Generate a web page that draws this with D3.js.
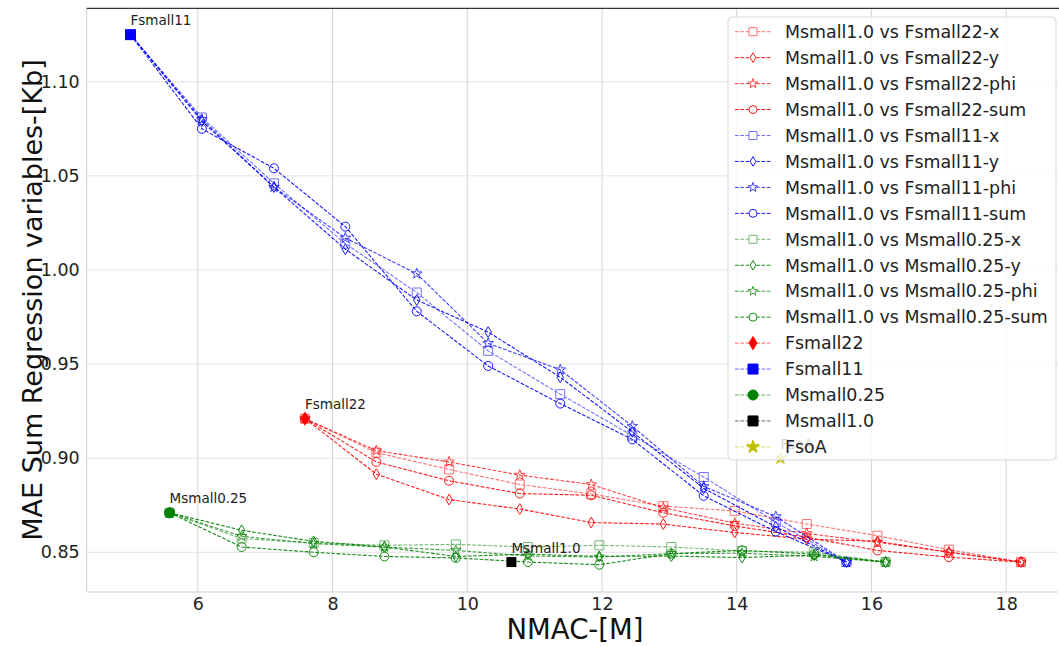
<!DOCTYPE html>
<html>
<head>
<meta charset="utf-8">
<script src="https://cdn.jsdelivr.net/npm/d3@7"></script>
<style>
  body { margin: 0; background: #fff; }
  svg { display: block; font-family: "DejaVu Sans", sans-serif; }
</style>
</head>
<body>
<svg id="chart" width="1059" height="646"></svg>
<script>
// ---- data: NMAC (millions) per step, MAE sums per regression variable ----
const nmacFsmall22 = [7.59, 8.65, 9.73, 10.78, 11.84, 12.91, 13.97, 15.04, 16.09, 17.15, 18.22];
const nmacFsmall11 = [5.0, 6.06, 7.13, 8.19, 9.25, 10.31, 11.38, 12.45, 13.51, 14.58, 15.63];
const nmacMsmall025 = [5.58, 6.65, 7.72, 8.77, 9.83, 10.90, 11.96, 13.03, 14.08, 15.15, 16.21];

const fsmall22X   = [0.921, 0.903, 0.894, 0.886, 0.881, 0.8745, 0.872, 0.865, 0.8588, 0.8514, 0.8448];
const fsmall22Y   = [0.921, 0.8915, 0.878, 0.873, 0.8658, 0.865, 0.8605, 0.857, 0.8558, 0.8500, 0.8448];
const fsmall22Phi = [0.921, 0.904, 0.898, 0.891, 0.886, 0.8737, 0.8655, 0.860, 0.8553, 0.8501, 0.8448];
const fsmall22Sum = [0.921, 0.898, 0.888, 0.8812, 0.8803, 0.871, 0.864, 0.858, 0.851, 0.8474, 0.8448];

const fsmall11X   = [1.125, 1.081, 1.046, 1.014, 0.988, 0.957, 0.934, 0.912, 0.890, 0.866, 0.8448];
const fsmall11Y   = [1.125, 1.079, 1.044, 1.011, 0.984, 0.967, 0.943, 0.914, 0.884, 0.8635, 0.8448];
const fsmall11Phi = [1.125, 1.080, 1.044, 1.017, 0.998, 0.961, 0.947, 0.917, 0.885, 0.869, 0.8448];
const fsmall11Sum = [1.125, 1.075, 1.054, 1.023, 0.978, 0.949, 0.929, 0.910, 0.880, 0.861, 0.8448];

const msmall025X   = [0.871, 0.8573, 0.855, 0.8537, 0.8542, 0.8528, 0.8537, 0.8528, 0.8507, 0.850, 0.8448];
const msmall025Y   = [0.871, 0.8617, 0.8558, 0.8528, 0.8478, 0.849, 0.8478, 0.848, 0.8472, 0.8485, 0.8448];
const msmall025Phi = [0.871, 0.8585, 0.8546, 0.8528, 0.851, 0.848, 0.8475, 0.8493, 0.8495, 0.8478, 0.8448];
const msmall025Sum = [0.871, 0.8528, 0.850, 0.8478, 0.847, 0.8448, 0.8434, 0.8493, 0.851, 0.849, 0.8448];

// reference models: name, NMAC, MAE
const modelNames = ["Fsmall22", "Fsmall11", "Msmall0.25", "Msmall1.0", "FsoA"];
const modelNmac  = [7.59, 5.0, 5.58, 10.655, 14.65];
const modelMae   = [0.921, 1.125, 0.871, 0.8448, 0.900];

const xTicks = [6, 8, 10, 12, 14, 16, 18];
const yTicks = [0.85, 0.90, 0.95, 1.00, 1.05, 1.10];

// ---- layout ----
const svg = d3.select("#chart");
const plotLeft = 86.7, plotRight = 1058, plotTop = 8.3, plotBottom = 592;
const x = d3.scaleLinear().domain([4.35, 18.77]).range([plotLeft, plotRight]);
const y = d3.scaleLinear().domain([0.8289, 1.139]).range([plotBottom, plotTop]);

// marker shapes
function starPath(R) {
  const r = R * 0.4, pts = [];
  for (let i = 0; i < 10; i++) {
    const a = -Math.PI / 2 + i * Math.PI / 5, rr = i % 2 ? r : R;
    pts.push([rr * Math.cos(a), rr * Math.sin(a)]);
  }
  return "M" + pts.map(p => p[0].toFixed(2) + "," + p[1].toFixed(2)).join("L") + "Z";
}
function markerPath(kind, s) {
  if (kind === "square") return `M${-s/2},${-s/2}h${s}v${s}h${-s}Z`;
  if (kind === "diamond") { const w = s * 0.36, h = s * 0.6; return `M0,${-h}L${w},0L0,${h}L${-w},0Z`; }
  if (kind === "star") return starPath(s * 0.62);
  if (kind === "circle") { const r = s / 2; return `M${r},0A${r},${r} 0 1,1 ${-r},0A${r},${r} 0 1,1 ${r},0Z`; }
}

// ---- grid ----
const grid = svg.append("g");
grid.selectAll("line.v").data(xTicks).join("line")
  .attr("x1", d => x(d)).attr("x2", d => x(d)).attr("y1", plotTop).attr("y2", plotBottom)
  .attr("stroke", "#d4d4d4").attr("stroke-width", 1);
grid.selectAll("line.h").data(yTicks).join("line")
  .attr("x1", plotLeft).attr("x2", plotRight).attr("y1", d => y(d)).attr("y2", d => y(d))
  .attr("stroke", "#e4e4e4").attr("stroke-width", 1);

// ---- spines ----
svg.append("line").attr("x1", plotLeft).attr("x2", plotLeft).attr("y1", plotTop).attr("y2", plotBottom).attr("stroke", "#cfcfcf");
svg.append("line").attr("x1", plotLeft).attr("x2", plotRight).attr("y1", plotBottom).attr("y2", plotBottom).attr("stroke", "#cfcfcf");
svg.append("line").attr("x1", plotLeft).attr("x2", 1059).attr("y1", plotTop).attr("y2", plotTop).attr("stroke", "#333").attr("stroke-width", 1.2);

// ---- axes ----
const xAxis = svg.append("g").attr("transform", `translate(0,${plotBottom})`)
  .call(d3.axisBottom(x).tickValues(xTicks).tickSize(0).tickPadding(6).tickFormat(d3.format("d")));
const yAxis = svg.append("g").attr("transform", `translate(${plotLeft},0)`)
  .call(d3.axisLeft(y).tickValues(yTicks).tickSize(0).tickPadding(7).tickFormat(d3.format(".2f")));
[xAxis, yAxis].forEach(a => {
  a.select(".domain").remove();
  a.selectAll("text").attr("font-size", 17.5).attr("fill", "#222").attr("font-family", "DejaVu Sans");
});

svg.append("text").attr("x", 575).attr("y", 639).attr("text-anchor", "middle")
  .attr("font-size", 27.5).attr("fill", "#111").text("NMAC-[M]");
svg.append("text").attr("transform", "translate(42,300) rotate(-90)").attr("text-anchor", "middle")
  .attr("font-size", 27).attr("fill", "#111").text("MAE Sum Regression variables-[Kb]");

// ---- comparison series ----
const varKinds = ["square", "diamond", "star", "circle"];
const varAlpha = [0.55, 0.9, 0.75, 0.9];
const varNames = ["x", "y", "phi", "sum"];
const groups = [
  { name: "Fsmall22", color: "#ff0000", nmac: nmacFsmall22, vals: [fsmall22X, fsmall22Y, fsmall22Phi, fsmall22Sum] },
  { name: "Fsmall11", color: "#0000ff", nmac: nmacFsmall11, vals: [fsmall11X, fsmall11Y, fsmall11Phi, fsmall11Sum] },
  { name: "Msmall0.25", color: "#008000", nmac: nmacMsmall025, vals: [msmall025X, msmall025Y, msmall025Phi, msmall025Sum] }
];

const line = d3.line().x(d => x(d[0])).y(d => y(d[1]));
const plot = svg.append("g");
groups.forEach(g => {
  g.vals.forEach((vals, vi) => {
    const pts = g.nmac.map((n, i) => [n, vals[i]]);
    const s = plot.append("g").attr("opacity", varAlpha[vi]);
    s.append("path").attr("d", line(pts)).attr("fill", "none")
      .attr("stroke", g.color).attr("stroke-width", 1.1).attr("stroke-dasharray", "3.7,1.6");
    s.selectAll("path.m").data(pts).join("path").attr("class", "m")
      .attr("d", markerPath(varKinds[vi], 9))
      .attr("transform", d => `translate(${x(d[0])},${y(d[1])})`)
      .attr("fill", "none").attr("stroke", g.color).attr("stroke-width", 1);
  });
});

// ---- reference model points ----
const modelColors = ["#ff0000", "#0000ff", "#008000", "#000000", "#bfbf00"];
const modelKinds  = ["diamond", "square", "circle", "square", "star"];
const modelSizes  = [12, 11, 11, 10, 12];
modelNames.forEach((name, i) => {
  const px = x(modelNmac[i]), py = y(modelMae[i]);
  svg.append("path").attr("d", markerPath(modelKinds[i], modelSizes[i]))
    .attr("transform", `translate(${px},${py})`).attr("fill", modelColors[i]);
  svg.append("text").attr("x", px).attr("y", y(modelMae[i] + 0.005))
    .attr("font-size", 13.5).attr("fill", "#222").text(name);
});

// ---- legend ----
const legend = svg.append("g");
legend.append("rect").attr("x", 728).attr("y", 17).attr("width", 328).attr("height", 443).attr("rx", 4)
  .attr("fill", "#fff").attr("fill-opacity", 0.8).attr("stroke", "#d8d8d8");
const entries = [];
groups.forEach(g => varNames.forEach((v, vi) => entries.push({
  label: `Msmall1.0 vs ${g.name}-${v}`, color: g.color, kind: varKinds[vi], alpha: varAlpha[vi], filled: false, size: 8
})));
modelNames.forEach((n, i) => entries.push({
  label: n, color: modelColors[i], kind: modelKinds[i], alpha: 1, filled: true, size: [11, 10, 10, 10, 11][i]
}));
entries.forEach((e, i) => {
  const cy = 31.7 + i * 25.95;
  const row = legend.append("g");
  const h = row.append("g").attr("opacity", e.alpha);
  h.append("line").attr("x1", 735).attr("x2", 771).attr("y1", cy).attr("y2", cy)
    .attr("stroke", e.color).attr("stroke-opacity", e.filled ? 0.6 : 1)
    .attr("stroke-width", 1).attr("stroke-dasharray", "3.7,1.6");
  h.append("path").attr("d", markerPath(e.kind, e.size)).attr("transform", `translate(753,${cy})`)
    .attr("fill", e.filled ? e.color : "#fff").attr("stroke", e.color).attr("stroke-width", 1);
  row.append("text").attr("x", 785).attr("y", cy).attr("dy", "0.36em")
    .attr("font-size", 17.4).attr("fill", "#222").text(e.label);
});
</script>
</body>
</html>
